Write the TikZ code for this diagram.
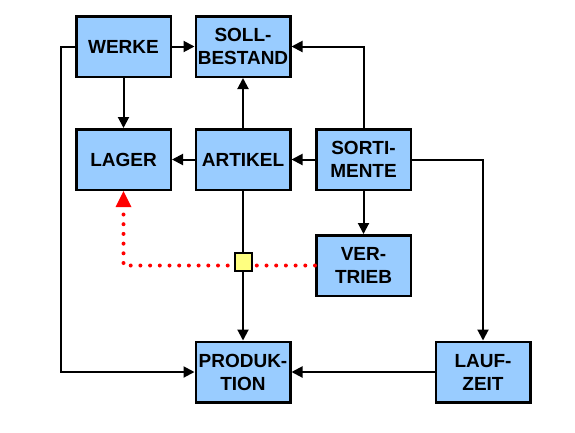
\documentclass[tikz,border=0pt]{standalone}
\usepackage{fontspec}
\setmainfont{Liberation Sans}
\usetikzlibrary{arrows.meta}
\definecolor{boxblue}{HTML}{99CCFF}
\definecolor{junc}{HTML}{FFFF80}
\tikzset{
  box/.style={draw=black, line width=2.5pt, fill=boxblue, minimum width=94.5pt, minimum height=60.5pt,
    inner sep=0pt, align=center, font=\fontsize{19}{23}\selectfont\bfseries},
  arr/.style={draw=black, line width=2pt, -{Triangle[length=11pt,width=11pt]}},
  plain/.style={draw=black, line width=2pt},
  redarr/.style={draw=red, line width=4pt, line cap=round, dash pattern=on 0pt off 9.7pt,
    -{Triangle[length=16pt,width=16pt,line width=0pt]}},
  juncbox/.style={draw=black, line width=2pt, fill=junc, minimum size=17.5pt, inner sep=0pt}
}
\begin{document}
\begin{tikzpicture}[x=1pt,y=-1pt]
\useasboundingbox[fill=white] (0,0) rectangle (575,432);
\node[box] (werke) at (123.5,46.5) {WERKE};
\node[box] (soll) at (243,46.5) {SOLL-\\BESTAND};
\node[box] (lager) at (123.5,159.5) {LAGER};
\node[box] (artikel) at (243,159.5) {ARTIKEL};
\node[box] (sort) at (363.5,159.5) {SORTI-\\MENTE};
\node[box] (vert) at (363.5,265.5) {VER-\\TRIEB};
\node[box] (prod) at (243,372) {PRODUK-\\TION};
\node[box] (lauf) at (483,372) {LAUF-\\ZEIT};
\coordinate (wl) at (61,0);
\coordinate (rl) at (123.5,265);

\draw[arr] (werke) -- (soll);
\draw[arr] (werke) -- (lager);
\draw[arr] (artikel) -- (soll);
\draw[arr] (artikel) -- (lager);
\draw[arr] (sort) -- (artikel);
\draw[arr] (sort.north) |- (soll.east);
\draw[arr] (sort.east) -| (lauf.north);
\draw[arr] (sort) -- (vert);
\draw[arr] (artikel) -- (prod);
\draw[arr] (lauf) -- (prod);
\draw[arr] (werke.west) -- (werke.west -| wl) |- (prod.west);
\draw[redarr] (vert.west) -- (vert.west -| rl) -- (lager.south);
\node[juncbox] (jn) at (243.5,262) {};
\end{tikzpicture}
\end{document}
